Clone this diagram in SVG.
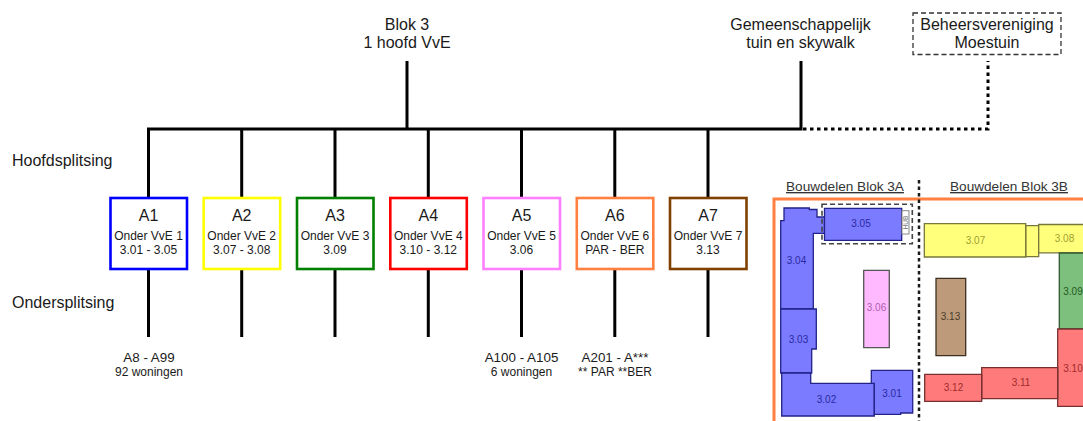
<svg xmlns="http://www.w3.org/2000/svg" width="1083" height="421" viewBox="0 0 1083 421">
<style>
text{font-family:"Liberation Sans",Arial,sans-serif;text-anchor:middle;fill:#1a1a1a}
.h{font-size:16px}.t{font-size:16px}.s{font-size:12px}.m{font-size:13.4px}.l{font-size:16px;text-anchor:start}
.u{font-size:13.6px;text-decoration:underline;fill:#333}
.box{fill:#fff;stroke-width:2.6}
.c{fill:none;stroke:#000;stroke-width:3}
.d{fill:none;stroke:#000;stroke-width:3;stroke-dasharray:3.5 3.5}
.p{stroke-width:1.3}
.bl{fill:#7b7bff;stroke:#222288}.ye{fill:#ffff7b;stroke:#77773a}.gr{fill:#7dbf7d;stroke:#2f5a2f}.re{fill:#ff7b7b;stroke:#772f2f}
.n{font-size:10px}
</style>
<rect width="1083" height="421" fill="#fff"/>
<g id="connectors">
<path class="c" d="M407 61V129M801 61V129M147 129H802.500"/>
<path class="c" d="M148.500 129V198M241.700 129V198M335 129V198M428.300 129V198M521.500 129V198M614.800 129V198M708 129V198"/>
<path class="c" d="M148.500 269V337M241.700 269V337M335 269V337M428.300 269V337M521.500 269V337M614.800 269V337M708 269V337"/>
<path class="d" d="M803 129H988V61"/>
</g>
<g id="top-blok3"><text class="h" x="407" y="30">Blok 3</text><text class="h" x="407" y="48">1 hoofd VvE</text></g>
<g id="top-gemeenschappelijk"><text class="h" x="800.500" y="30">Gemeenschappelijk</text><text class="h" x="800.500" y="48">tuin en skywalk</text></g>
<g id="top-beheer"><rect x="913" y="13" width="148" height="41.500" fill="none" stroke="#333" stroke-width="1.300" stroke-dasharray="5 3"/><text class="h" x="987" y="30">Beheersvereniging</text><text class="h" x="987" y="48">Moestuin</text></g>
<text class="l" x="12" y="166">Hoofdsplitsing</text>
<text class="l" x="12" y="308">Ondersplitsing</text>
<g id="A1"><rect class="box" x="110.500" y="198" width="76.500" height="71" stroke="#0000ff"/><text class="t" x="148.500" y="221">A1</text><text class="s" x="148.500" y="240">Onder VvE 1</text><text class="s" x="148.500" y="254">3.01 - 3.05</text></g>
<g id="A2"><rect class="box" x="203.700" y="198" width="76.500" height="71" stroke="#ffff00"/><text class="t" x="241.700" y="221">A2</text><text class="s" x="241.700" y="240">Onder VvE 2</text><text class="s" x="241.700" y="254">3.07 - 3.08</text></g>
<g id="A3"><rect class="box" x="297" y="198" width="76.500" height="71" stroke="#008000"/><text class="t" x="335" y="221">A3</text><text class="s" x="335" y="240">Onder VvE 3</text><text class="s" x="335" y="254">3.09</text></g>
<g id="A4"><rect class="box" x="390.300" y="198" width="76.500" height="71" stroke="#ff0000"/><text class="t" x="428.300" y="221">A4</text><text class="s" x="428.300" y="240">Onder VvE 4</text><text class="s" x="428.300" y="254">3.10 - 3.12</text></g>
<g id="A5"><rect class="box" x="483.500" y="198" width="76.500" height="71" stroke="#ff80ff"/><text class="t" x="521.500" y="221">A5</text><text class="s" x="521.500" y="240">Onder VvE 5</text><text class="s" x="521.500" y="254">3.06</text></g>
<g id="A6"><rect class="box" x="576.800" y="198" width="76.500" height="71" stroke="#ff8040"/><text class="t" x="614.800" y="221">A6</text><text class="s" x="614.800" y="240">Onder VvE 6</text><text class="s" x="614.800" y="254">PAR - BER</text></g>
<g id="A7"><rect class="box" x="670" y="198" width="76.500" height="71" stroke="#804000"/><text class="t" x="708" y="221">A7</text><text class="s" x="708" y="240">Onder VvE 7</text><text class="s" x="708" y="254">3.13</text></g>
<g id="sub1"><text class="m" x="149" y="362">A8 - A99</text><text class="s" x="149" y="376">92 woningen</text></g>
<g id="sub5"><text class="m" x="521.500" y="362">A100 - A105</text><text class="s" x="521.500" y="376">6 woningen</text></g>
<g id="sub6"><text class="m" x="615" y="362">A201 - A***</text><text class="s" x="615" y="376">** PAR **BER</text></g>
<g id="plan">
<text class="u" x="845" y="191">Bouwdelen Blok 3A</text>
<text class="u" x="1009" y="191">Bouwdelen Blok 3B</text>
<path d="M774 421V199H1083" fill="none" stroke="#ff8040" stroke-width="3"/>
<path d="M919 180V421" fill="none" stroke="#1a1a1a" stroke-width="2.500" stroke-dasharray="3.500 3"/>
<path class="p bl" d="M784 208H809.300V209.500H817V217H824.500V233.300H813.300V309H780.700V220.700H784Z"/>
<path class="p bl" d="M824.500 208.300H901.700V240.300H824.500Z"/>
<rect x="902" y="210.700" width="7" height="23.300" fill="#fff" stroke="#888" stroke-width="1"/>
<text x="908" y="222.500" transform="rotate(-90 908 222.500)" style="fill:#777;font-size:6.500px">HUB</text>
<rect x="822" y="204.300" width="90.300" height="39.400" fill="none" stroke="#444" stroke-width="1.600" stroke-dasharray="5 3"/>
<path class="p" fill="#ffb9ff" stroke="#555" d="M863.700 270.300H889.300V347.700H863.700Z"/>
<path class="p bl" d="M780.700 309H816.300V349H811.700V373H780.700Z"/>
<path class="p bl" d="M781.700 373H810.700V383.300H874.300V416H781.700Z"/>
<path class="p bl" d="M871.300 370.300H912.700V413H900.700V414.300H874.300V383.300H871.300Z"/>
<path class="p ye" d="M1025.700 225.700H1038.700V256.700H1025.700Z"/>
<path class="p ye" d="M924.300 223.700H1025.700V257H924.300Z"/>
<path class="p ye" d="M1084 224.500H1038.700V252.800H1084"/>
<path class="p gr" d="M1084 253H1059.300V329H1084"/>
<path class="p re" d="M1084 329H1057.700V406.300H1084"/>
<path class="p re" d="M981.700 367.700H1057.700V398.700H981.700Z"/>
<path class="p re" d="M924.700 374.300H981.700V401.300H924.700Z"/>
<path class="p" fill="#bd9a7a" stroke="#3d3020" d="M936 278.300H965.700V355.700H936Z"/>
<g>
<text class="n" x="861" y="227" style="fill:#2a2aa0">3.05</text>
<text class="n" x="796.500" y="264" style="fill:#2a2aa0">3.04</text>
<text class="n" x="798.500" y="342.500" style="fill:#2a2aa0">3.03</text>
<text class="n" x="826.500" y="403" style="fill:#2a2aa0">3.02</text>
<text class="n" x="892" y="397" style="fill:#2a2aa0">3.01</text>
<text class="n" x="876.500" y="311" style="fill:#b060b0">3.06</text>
<text class="n" x="975.500" y="243.500" style="fill:#a0a030">3.07</text>
<text class="n" x="1064.500" y="241.500" style="fill:#a0a030">3.08</text>
<text class="n" x="1073" y="295" style="fill:#235a23">3.09</text>
<text class="n" x="1073" y="372" style="fill:#a02a2a">3.10</text>
<text class="n" x="1021" y="386" style="fill:#a02a2a">3.11</text>
<text class="n" x="953.500" y="391" style="fill:#a02a2a">3.12</text>
<text class="n" x="950.500" y="320" style="fill:#4a3a28">3.13</text>
</g>
</g>
</svg>
